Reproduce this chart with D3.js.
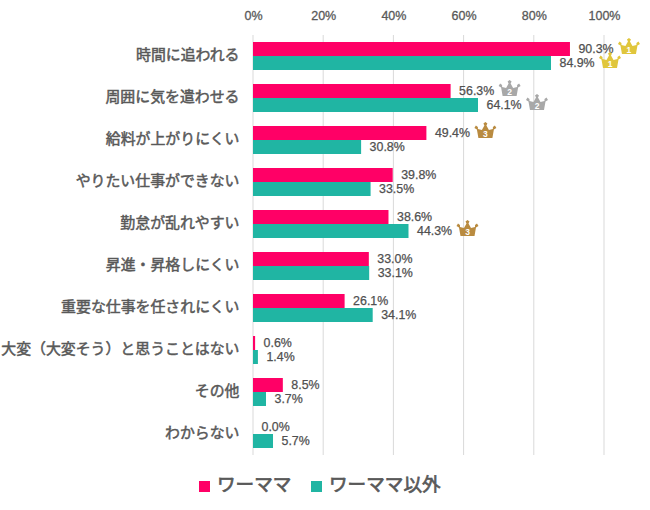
<!DOCTYPE html>
<html lang="ja">
<head>
<meta charset="utf-8">
<title>ワーママ</title>
<script src="https://cdnjs.cloudflare.com/ajax/libs/d3/7.8.5/d3.min.js"></script>
<style>
*{margin:0;padding:0;}
body{background:#fff;}
svg{display:block;}
.tick text{font-family:"Liberation Sans",Arial,sans-serif;font-size:12.5px;fill:#595959;stroke:#595959;stroke-width:.3px;}
.val{font-family:"Liberation Sans",Arial,sans-serif;font-size:12.4px;fill:#505050;stroke:#505050;stroke-width:.25px;}
.cat{font-family:"Noto Sans CJK JP",sans-serif;font-size:14.9px;font-weight:400;fill:#595959;stroke:#595959;stroke-width:.5px;}
.leg{font-family:"Noto Sans CJK JP",sans-serif;font-size:18.6px;font-weight:400;fill:#595959;stroke:#595959;stroke-width:.7px;}
</style>
</head>
<body>
<svg id="chart" width="650" height="510"></svg>
<script>
var categories = ["時間に追われる","周囲に気を遣わせる","給料が上がりにくい","やりたい仕事ができない","勤怠が乱れやすい","昇進・昇格しにくい","重要な仕事を任されにくい","大変（大変そう）と思うことはない","その他","わからない"];
var mama = [90.3,56.3,49.4,39.8,38.6,33.0,26.1,0.6,8.5,0.0];
var others = [84.9,64.1,30.8,33.5,44.3,33.1,34.1,1.4,3.7,5.7];
var seriesNames = ["ワーママ","ワーママ以外"];
var tickValues = [0,20,40,60,80,100];
// top three of each series: [category index, rank]
var mamaRanks = [[0,1],[1,2],[2,3]];
var otherRanks = [[0,1],[1,2],[4,3]];

var colors = ["#ff0066","#20b5a3"];
var crownColors = {1:"#e0c63c",2:"#a8a8a8",3:"#b98b40"};

var svg = d3.select("#chart");
var x = d3.scaleLinear().domain([0,100]).range([253,604]);
var y = d3.scaleBand().domain(categories).range([35,455]);
var barH = 14;

// axis + grid
var axis = d3.axisTop(x).tickValues(tickValues).tickFormat(function(d){return d+"%";}).tickSize(0).tickPadding(0);
var ag = svg.append("g").attr("transform","translate(0,20)").call(axis);
ag.select(".domain").remove();
svg.append("g").selectAll("line").data(tickValues).join("line")
  .attr("x1",function(d){return x(d);}).attr("x2",function(d){return x(d);})
  .attr("y1",35).attr("y2",455)
  .attr("stroke","#d9d9d9").attr("stroke-width",1);

// category labels
svg.append("g").selectAll("text").data(categories).join("text")
  .attr("class","cat")
  .attr("x",239.5).attr("y",function(d){return y(d)+y.bandwidth()/2+3.5;})
  .attr("text-anchor","end")
  .text(function(d){return d;});

function drawSeries(values, idx){
  var off = idx==0 ? -barH : 0;
  var g = svg.append("g");
  g.selectAll("rect").data(values).join("rect")
    .attr("x",x(0))
    .attr("y",function(d,i){return y(categories[i])+y.bandwidth()/2+off;})
    .attr("width",function(d){return x(d)-x(0);})
    .attr("height",barH)
    .attr("fill",colors[idx]);
  g.selectAll("text").data(values).join("text")
    .attr("class","val")
    .attr("x",function(d){return x(d)+8.5;})
    .attr("y",function(d,i){return y(categories[i])+y.bandwidth()/2+off+barH/2+3.5;})
    .text(function(d){return d.toFixed(1)+"%";});
}
drawSeries(mama,0);
drawSeries(others,1);

function drawCrowns(ranks, values, idx){
  var off = idx==0 ? -barH/2 : barH/2;
  var c = svg.append("g").selectAll("g").data(ranks).join("g")
    .attr("transform",function(d){
      return "translate("+(x(values[d[0]])+59)+","+(y(categories[d[0]])+y.bandwidth()/2+off-2)+")";
    });
  c.append("path")
    .attr("d","M-7,7 L-8.5,-1.5 L-11,-3 L-9.5,-5.5 L-7.5,-4 L-7.5,-2 L-3.5,-1 L-1,-5.5 L-2,-7.5 L0,-9 L2,-7.5 L1,-5.5 L3.5,-1 L7.5,-2 L7.5,-4 L9.5,-5.5 L11,-3 L8.5,-1.5 L7,7 Z")
    .attr("fill",function(d){return crownColors[d[1]];});
  c.append("text")
    .attr("y",5.5).attr("text-anchor","middle")
    .attr("font-family","Liberation Sans, Arial, sans-serif")
    .attr("font-size",8.5).attr("font-weight",700).attr("fill","#fff")
    .text(function(d){return d[1];});
}
drawCrowns(mamaRanks,mama,0);
drawCrowns(otherRanks,others,1);

// legend
var legX = [199,311];
var lg = svg.append("g").selectAll("g").data(seriesNames).join("g")
  .attr("transform",function(d,i){return "translate("+legX[i]+",481)";});
lg.append("rect").attr("width",11).attr("height",11).attr("fill",function(d,i){return colors[i];});
lg.append("text").attr("class","leg").attr("x",18).attr("y",10).text(function(d){return d;});
</script>
</body>
</html>
